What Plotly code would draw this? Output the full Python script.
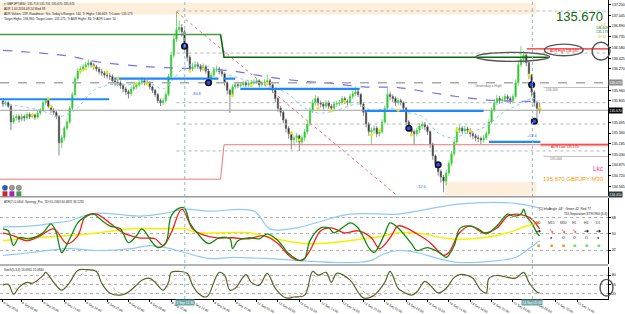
import plotly.graph_objects as go
from plotly.subplots import make_subplots

FONT = "Liberation Sans, Arial, sans-serif"

# ---------------- price data (GBPJPY M30) ----------------
bars = list(range(202))
opens = [135.80,135.76,135.78,135.73,135.50,135.56,135.58,135.54,135.58,135.56,
135.61,135.58,135.60,135.57,135.63,135.67,135.78,135.81,135.73,135.67,
135.64,135.58,135.20,135.27,135.41,135.50,135.70,135.90,136.13,136.24,
136.27,136.30,136.33,136.36,136.33,136.30,136.27,136.23,136.21,136.18,
136.17,136.16,136.10,136.07,136.07,136.03,135.98,135.94,135.91,135.98,
136.01,136.04,136.07,136.10,136.07,136.07,136.01,135.96,135.90,135.81,
135.78,135.81,135.90,136.16,136.47,136.70,136.84,136.87,136.81,136.61,
136.44,136.27,136.30,136.33,136.31,136.27,136.30,136.24,136.10,136.18,
136.26,136.27,136.23,136.20,136.07,135.96,135.90,136.01,136.04,136.03,
136.04,136.07,136.04,136.06,136.07,136.08,136.10,136.04,136.07,136.08,
136.10,136.04,135.96,135.84,135.70,135.64,135.53,135.41,135.33,135.24,
135.27,135.30,135.21,135.27,135.36,135.47,135.67,135.78,135.84,135.78,
135.76,135.73,135.78,135.73,135.70,135.76,135.77,135.78,135.84,135.80,
135.78,135.87,135.91,135.94,135.90,135.76,135.64,135.47,135.36,135.38,
135.41,135.33,135.36,135.50,135.70,135.90,135.87,135.84,135.78,135.81,
135.78,135.70,135.50,135.41,135.36,135.33,135.38,135.44,135.47,135.43,
135.36,135.18,135.01,134.90,134.78,134.70,134.64,134.76,134.90,135.04,
135.21,135.38,135.41,135.37,135.40,135.38,135.33,135.30,135.27,135.26,
135.24,135.27,135.33,135.50,135.67,135.78,135.84,135.81,135.83,135.87,
135.84,135.81,135.87,136.07,136.33,136.41,136.47,136.36,136.18,135.93,
135.78,135.70]
highs = [135.84,135.81,135.80,135.75,135.60,135.62,135.61,135.62,135.61,135.64,
135.64,135.63,135.62,135.66,135.70,135.81,135.84,135.83,135.75,135.70,
135.66,135.60,135.31,135.44,135.54,135.73,135.93,136.16,136.28,136.31,
136.34,136.37,136.41,136.39,136.36,136.33,136.30,136.27,136.24,136.22,
136.21,136.19,136.13,136.11,136.10,136.06,136.01,135.97,136.02,136.05,
136.08,136.11,136.15,136.13,136.11,136.09,136.03,135.98,135.92,135.84,
135.85,135.94,136.20,136.52,136.76,137.10,136.97,136.92,136.84,136.64,
136.47,136.36,136.38,136.37,136.34,136.35,136.33,136.26,136.22,136.30,
136.32,136.30,136.27,136.22,136.09,135.98,136.05,136.08,136.07,136.08,
136.10,136.10,136.09,136.11,136.12,136.14,136.12,136.10,136.12,136.19,
136.13,136.06,135.98,135.86,135.73,135.66,135.55,135.44,135.36,135.31,
135.34,135.32,135.31,135.40,135.52,135.71,135.83,135.89,135.87,135.81,
135.79,135.82,135.81,135.76,135.80,135.81,135.82,135.88,135.87,135.83,
135.91,135.95,136.01,135.97,135.92,135.78,135.66,135.50,135.42,135.45,
135.44,135.40,135.54,135.74,135.99,135.94,135.90,135.87,135.85,135.84,
135.80,135.72,135.53,135.44,135.39,135.42,135.48,135.51,135.50,135.46,
135.38,135.20,135.03,134.93,134.81,134.73,134.80,134.94,135.08,135.25,
135.43,135.46,135.44,135.44,135.43,135.41,135.36,135.33,135.31,135.29,
135.31,135.37,135.54,135.71,135.83,135.89,135.88,135.87,135.91,135.90,
135.87,135.91,136.12,136.38,136.60,136.53,136.50,136.39,136.20,135.96,
135.81,135.78]
lows = [135.72,135.73,135.70,135.38,135.47,135.52,135.49,135.51,135.51,135.53,
135.54,135.55,135.53,135.55,135.60,135.65,135.75,135.70,135.63,135.60,
135.54,135.01,135.12,135.23,135.38,135.47,135.67,135.87,136.10,136.20,
136.23,136.26,136.29,136.29,136.26,136.23,136.19,136.17,136.14,136.13,
136.11,136.06,136.02,136.02,135.98,135.93,135.89,135.84,135.88,135.95,
135.98,136.01,136.04,136.03,136.03,135.97,135.92,135.86,135.77,135.73,
135.75,135.78,135.87,136.13,136.43,136.66,136.80,136.74,136.55,136.38,
136.22,136.24,136.27,136.27,136.23,136.24,136.20,136.05,136.07,136.15,
136.22,136.19,136.16,136.03,135.90,135.63,135.86,135.98,135.99,136.00,
136.01,136.00,136.01,136.03,136.04,136.05,136.00,136.01,136.03,136.05,
136.00,135.92,135.79,135.65,135.58,135.48,135.35,135.26,135.10,135.18,
135.20,135.08,135.16,135.22,135.32,135.44,135.63,135.74,135.73,135.71,
135.68,135.70,135.69,135.65,135.67,135.72,135.73,135.75,135.76,135.74,
135.75,135.83,135.88,135.86,135.72,135.59,135.42,135.30,135.18,135.33,
135.28,135.29,135.33,135.47,135.67,135.82,135.79,135.73,135.75,135.74,
135.65,135.45,135.36,135.30,135.17,135.29,135.34,135.40,135.38,135.31,
135.12,134.95,134.83,134.72,134.62,134.48,134.58,134.72,134.86,135.00,
135.17,135.34,135.32,135.33,135.33,135.28,135.25,135.22,135.21,135.18,
135.20,135.24,135.30,135.47,135.64,135.74,135.76,135.77,135.79,135.79,
135.76,135.77,135.84,136.03,136.29,136.36,136.31,136.12,135.87,135.72,
135.50,135.62]
closes = [135.76,135.78,135.73,135.50,135.56,135.58,135.54,135.58,135.56,135.61,
135.58,135.60,135.57,135.63,135.67,135.78,135.81,135.73,135.67,135.64,
135.58,135.20,135.27,135.41,135.50,135.70,135.90,136.13,136.24,136.27,
136.30,136.33,136.36,136.33,136.30,136.27,136.23,136.21,136.18,136.17,
136.16,136.10,136.07,136.07,136.03,135.98,135.94,135.91,135.98,136.01,
136.04,136.07,136.10,136.07,136.07,136.01,135.96,135.90,135.81,135.78,
135.81,135.90,136.16,136.47,136.70,136.84,136.87,136.81,136.61,136.44,
136.27,136.30,136.33,136.31,136.27,136.30,136.24,136.10,136.18,136.26,
136.27,136.23,136.20,136.07,135.96,135.90,136.01,136.04,136.03,136.04,
136.07,136.04,136.06,136.07,136.08,136.10,136.04,136.07,136.08,136.10,
136.04,135.96,135.84,135.70,135.64,135.53,135.41,135.33,135.24,135.27,
135.30,135.21,135.27,135.36,135.47,135.67,135.78,135.84,135.78,135.76,
135.73,135.78,135.73,135.70,135.76,135.77,135.78,135.84,135.80,135.78,
135.87,135.91,135.94,135.90,135.76,135.64,135.47,135.36,135.38,135.41,
135.33,135.36,135.50,135.70,135.90,135.87,135.84,135.78,135.81,135.78,
135.70,135.50,135.41,135.36,135.33,135.38,135.44,135.47,135.43,135.36,
135.18,135.01,134.90,134.78,134.70,134.64,134.76,134.90,135.04,135.21,
135.38,135.41,135.37,135.40,135.38,135.33,135.30,135.27,135.26,135.24,
135.27,135.33,135.50,135.67,135.78,135.84,135.81,135.83,135.87,135.84,
135.81,135.87,136.07,136.33,136.41,136.47,136.36,136.18,135.93,135.78,
135.70,135.67]

# moving averages (read at sample bars)
ma_slow_x = [0,24,36,55,73,86,98,110,123,135,148,155,170,185,201]
ma_slow_y = [136.54,136.46,136.37,136.30,136.27,136.24,136.16,136.10,136.06,136.01,136.00,135.96,135.87,135.81,135.80]
ma_fast_x = [0,6,14,21,27,31,34,40,47,55,60,64,68,71,77,85,92,99,107,112,118,125,133,138,146,151,157,163,168,174,181,187,192,198,201]
ma_fast_y = [135.78,135.73,135.67,135.58,135.67,135.84,135.96,136.04,136.04,136.06,135.98,136.13,136.30,136.33,136.30,136.18,136.10,136.04,135.90,135.73,135.63,135.67,135.76,135.67,135.70,135.64,135.58,135.34,135.27,135.34,135.44,135.63,135.73,135.84,135.81]

# signal dots and swing rings
dot_x = [11,17,18,29,31,34,39,43,50,54,70,75,86,93,99,108,111,118,123,128,138,141,148,153,170,175,197,201]
dot_y = [135.60,135.84,135.73,136.24,136.27,136.30,136.23,136.13,136.06,136.06,136.24,136.27,135.88,136.03,136.06,135.34,135.24,135.70,135.66,135.80,135.31,135.38,135.67,135.31,135.38,135.37,136.18,135.70]
ring_x = [68,77,152,163,198,199]
ring_y = [136.60,136.07,135.41,134.88,136.04,135.51]

# support / resistance segments
sr_level = [135.83,136.13,136.13,135.98,135.66,135.21]
sr_start = [-1.1,41.7,82.6,88.9,135.4,182.0]
sr_end = [39.8,80.7,87.0,133.6,180.0,201.3]

# target / ADR levels
target_high_old, target_high_new = 136.77, 136.44
target_low_old, target_low_new = 134.67, 135.17
adr_high, adr_low = 136.56, 135.17
yest_high = 136.07
bid = 135.670
pivot_levels = [137.11, 136.50, 135.78, 135.47, 135.08]
round_levels = [136.00, 135.00]

# TDI indicator
tdi_green_x = [0,2,4,6,10,15,18,20,22,25,28,30,34,36,40,44,47,50,52,56,58,61,63,66,68,70,73,77,81,85,86,88,92,96,99,103,107,111,113,115,119,122,124,128,130,133,137,139,143,145,148,153,155,159,164,166,169,171,174,178,181,185,189,191,194,195,196,198,200,201]
tdi_green_y = [55.5,53.3,36.9,45.6,44.5,51.1,60.9,51.1,29.3,44.5,62,67.4,71.8,67.4,58.7,55.5,40.2,47.8,55.5,40.2,34.7,40.2,69.6,78.4,78.4,62,50,39.1,45.6,44.5,33.6,42.4,45.6,44.5,50,42.4,28.2,20.6,22.7,42.4,56.5,56.5,51.1,58.7,62,56.5,34.7,29.3,50,62,56.5,39.1,31.5,34.7,28.2,23.8,36.9,55.5,58.7,55.5,50,58.7,71.8,69.6,71.8,77.3,69.6,62,51.1,47.8]
tdi_red_x = [0,4,9,14,19,24,28,31,35,40,45,51,57,60,63,67,71,74,80,86,92,98,103,108,112,115,119,123,128,133,138,141,145,148,151,155,160,165,167,171,175,180,185,189,192,196,198,201]
tdi_red_y = [51.1,47.8,42.4,47.8,55.5,39.1,47.8,69.6,71.8,62,51.1,45.6,44.5,36.9,51.1,77.3,55.5,50,45.6,45.6,44.5,47.8,39.1,23.8,20.6,31.5,53.3,56.5,51.1,53.3,45.6,33.6,45.6,58.7,56.5,50,40.2,26,29.3,51.1,58.7,51.1,56.5,69.6,71.8,69.6,66.4,55.5]
tdi_base_x = [0,11,24,36,48,61,68,73,92,102,114,123,135,143,148,157,167,180,189,196,201]
tdi_base_y = [42.4,45.6,47.8,51.1,55.5,55.5,55.5,51.1,51.1,44.5,39.1,40.2,44.5,47.8,51.1,50,44.5,45.6,51.1,58.7,62]
tdi_up_x = [0,11,19,25,30,36,42,51,61,68,77,94,100,110,117,130,148,157,170,192,201]
tdi_up_y = [57.6,58.7,62,64.2,69.6,72.9,71.8,69.6,72.9,77.3,75.1,75.1,55.5,56.5,62,71.8,71.8,76.2,82.7,83.8,78.4]
tdi_lo_x = [0,11,24,36,48,55,61,68,77,86,98,110,123,133,138,143,148,155,163,170,186,192,197,201]
tdi_lo_y = [26,29.3,33.6,31.5,33.6,36.9,34.7,29.3,22.7,23.8,22.7,20.6,18.4,18.4,20.6,28.2,31.5,29.3,22.7,18.4,20.6,23.8,33.6,42.4]

# Stochastic
st_main_x = [0,2,4,6,9,11,15,16,19,22,25,28,31,35,37,40,44,47,50,52,55,57,60,62,63,66,69,71,73,76,77,81,83,85,87,91,93,96,99,102,106,109,113,116,118,121,123,125,130,133,135,139,143,145,148,150,153,155,158,160,163,166,169,171,174,176,179,181,182,185,189,192,195,197,200,201]
st_main_y = [48,51,19,41,57,54,79,89,57,32,57,95,98,92,54,23,16,26,48,64,70,57,32,57,89,92,86,48,23,10,16,89,80,32,38,82,57,48,86,38,7,10,16,92,80,89,57,86,64,26,7,16,57,92,38,26,16,26,60,48,23,38,73,82,79,70,32,23,70,79,73,70,89,57,26,23]
st_sig_x = [0,3,6,9,12,16,19,22,25,28,31,35,38,41,44,47,50,53,56,59,62,64,67,70,73,76,78,82,85,88,92,95,98,101,104,107,110,114,117,120,123,126,130,133,136,140,144,146,149,152,155,158,161,164,167,170,173,176,179,182,184,187,191,194,197,200,201]
st_sig_y = [52,45,33,45,55,70,75,50,42,70,92,95,75,42,22,19,33,52,64,50,43,65,86,78,50,25,15,60,62,40,62,64,65,60,30,15,10,35,75,82,72,72,72,50,20,12,38,70,60,30,20,38,50,40,35,58,78,76,55,35,55,75,73,75,75,50,40]

# axis labels
tick_bars = [0,7,15,23,31,39,47,55,63,71,79,87,95,103,111,119,127,135,143,151,159,167,175,183,191,199,207,215]
tick_text = ["8 Sep 2016","8 Sep 06:00","8 Sep 10:00","8 Sep 14:00","8 Sep 18:00","8 Sep 22:00",
             "9 Sep 02:00","9 Sep 06:00","9 Sep 10:00","9 Sep 14:00","9 Sep 18:00","9 Sep 22:00",
             "12 Sep 02:00","12 Sep 06:00","12 Sep 10:00","12 Sep 14:00","12 Sep 18:00","12 Sep 22:00",
             "13 Sep 02:00","13 Sep 06:00","13 Sep 10:00","13 Sep 14:00","13 Sep 18:00","13 Sep 22:00",
             "14 Sep 02:00","14 Sep 06:00","14 Sep 10:00","14 Sep 14:00"]
price_ticks = [137.200,137.045,136.890,136.735,136.580,136.425,136.270,
               135.960,135.805,135.495,135.340,135.185,135.030,134.875,134.720,134.565]

X_RANGE = [-1.1, 226.6]
W, H = 625, 314
PLOT_W, PLOT_H = 612, 304


def px_x(p):
    return p / PLOT_W


def px_y(p):
    return 1 - p / PLOT_H


fig = make_subplots(rows=3, cols=1, shared_xaxes=True, vertical_spacing=0.0)

# --- main panel: moving averages
fig.add_trace(go.Scatter(x=ma_slow_x, y=ma_slow_y, mode="lines", line=dict(color="#7a72e8", width=1.2, dash="dash"), line_shape="spline"), 1, 1)
fig.add_trace(go.Scatter(x=ma_fast_x, y=ma_fast_y, mode="lines", line=dict(color="#87cefa", width=1, dash="dot"), line_shape="spline"), 1, 1)

# horizontal levels
full = [X_RANGE[0], X_RANGE[1]]
fig.add_trace(go.Scatter(x=full, y=[yest_high, yest_high], mode="lines", line=dict(color="#a9a9a9", width=1.6, dash="dash")), 1, 1)
fig.add_trace(go.Scatter(x=full, y=[bid, bid], mode="lines", line=dict(color="#a0a0a0", width=1)), 1, 1)
for lv in pivot_levels:
    fig.add_trace(go.Scatter(x=[65, X_RANGE[1]], y=[lv, lv], mode="lines", line=dict(color="#b4b4b4", width=1, dash="dot")), 1, 1)
for lv in round_levels:
    fig.add_trace(go.Scatter(x=[202.4, X_RANGE[1]], y=[lv, lv], mode="lines", line=dict(color="#b0b0b0", width=0.8)), 1, 1)

# diagonal red dotted trend line
fig.add_trace(go.Scatter(x=[65, 147.7], y=[137.10, 134.43], mode="lines", line=dict(color="#ff6a6a", width=1, dash="dot")), 1, 1)

# target high / low step lines
fig.add_trace(go.Scatter(x=[X_RANGE[0], 81.5], y=[target_high_old, target_high_old], mode="lines", line=dict(color="#3f9f3f", width=1.6)), 1, 1)
fig.add_trace(go.Scatter(x=[81.5, 82.8, 204.3], y=[target_high_old, target_high_new, target_high_new], mode="lines", line=dict(color="#0b6a0b", width=1.6)), 1, 1)
fig.add_trace(go.Scatter(x=[X_RANGE[0], 81.5, 82.8, 201.3], y=[target_low_old, target_low_old, target_low_new, target_low_new], mode="lines", line=dict(color="#f07878", width=1)), 1, 1)
fig.add_trace(go.Scatter(x=[201.3, X_RANGE[1]], y=[adr_low, adr_low], mode="lines", line=dict(color="#ffb3b3", width=3)), 1, 1)
fig.add_trace(go.Scatter(x=[201.3, X_RANGE[1]], y=[adr_low, adr_low], mode="lines", line=dict(color="#ff3030", width=1)), 1, 1)
fig.add_trace(go.Scatter(x=[196.2, X_RANGE[1]], y=[adr_high, adr_high], mode="lines", line=dict(color="#ff2020", width=1.2)), 1, 1)

# candles
fig.add_trace(go.Candlestick(x=bars, open=opens, high=highs, low=lows, close=closes,
                             increasing=dict(line=dict(color="#4fd04f", width=0.8), fillcolor="#00c000"),
                             decreasing=dict(line=dict(color="#6a6a6a", width=0.8), fillcolor="#000000"),
                             whiskerwidth=0), 1, 1)

# support/resistance segments
for lv, s, e in zip(sr_level, sr_start, sr_end):
    fig.add_trace(go.Scatter(x=[s, e], y=[lv, lv], mode="lines", line=dict(color="#1e88ff", width=2.2)), 1, 1)

fig.add_trace(go.Scatter(x=dot_x, y=dot_y, mode="markers", marker=dict(color="#f2e400", size=3)), 1, 1)
fig.add_trace(go.Scatter(x=ring_x, y=ring_y, mode="markers", marker=dict(color="#2f4dff", size=5.5, line=dict(color="#111111", width=1.6))), 1, 1)

# --- TDI panel
fig.add_trace(go.Scatter(x=tdi_up_x, y=tdi_up_y, mode="lines", line=dict(color="#8fcaf5", width=1.2), line_shape="spline"), 2, 1)
fig.add_trace(go.Scatter(x=tdi_lo_x, y=tdi_lo_y, mode="lines", line=dict(color="#8fcaf5", width=1.2), line_shape="spline"), 2, 1)
fig.add_trace(go.Scatter(x=tdi_base_x, y=tdi_base_y, mode="lines", line=dict(color="#f5f000", width=1.5), line_shape="spline"), 2, 1)
fig.add_trace(go.Scatter(x=tdi_red_x, y=tdi_red_y, mode="lines", line=dict(color="#ff1a1a", width=1.3), line_shape="spline"), 2, 1)
fig.add_trace(go.Scatter(x=tdi_green_x, y=tdi_green_y, mode="lines", line=dict(color="#128a12", width=1.3), line_shape="spline"), 2, 1)

# --- Stochastic panel
fig.add_trace(go.Scatter(x=st_sig_x, y=st_sig_y, mode="lines", line=dict(color="#ff9a9a", width=1, dash="dot"), line_shape="spline"), 3, 1)
fig.add_trace(go.Scatter(x=st_main_x, y=st_main_y, mode="lines", line=dict(color="#4b6a2a", width=1.2), line_shape="spline"), 3, 1)

# ---------------- layout ----------------
fig.update_layout(width=W, height=H, margin=dict(l=0, r=W - PLOT_W, t=0, b=H - PLOT_H),
                  paper_bgcolor="white", plot_bgcolor="white", showlegend=False,
                  font=dict(family=FONT, size=4, color="#000000"))

dom_main = [px_y(199), 1]
dom_tdi = [px_y(268), px_y(201)]
dom_st = [0, px_y(271)]

for i, dom in zip([1, 2, 3], [dom_main, dom_tdi, dom_st]):
    fig.update_xaxes(row=i, col=1, range=X_RANGE, showgrid=False, zeroline=False,
                     showticklabels=(i == 3), rangeslider_visible=False, showline=False)
    fig.update_yaxes(row=i, col=1, domain=dom, side="right", zeroline=False,
                     showline=True, linecolor="#000000", linewidth=1,
                     ticks="outside", ticklen=2, tickcolor="#000000",
                     tickfont=dict(size=3.6, family=FONT, color="#000000"))

fig.update_xaxes(row=3, col=1, tickvals=tick_bars, ticktext=tick_text, ticks="outside", ticklen=2,
                 tickcolor="#000000", ticklabelposition="outside right",
                 tickfont=dict(size=3.2, family=FONT, color="#000000"), showline=True, linecolor="#000000")

fig.update_yaxes(row=1, col=1, range=[134.43, 137.27], tickvals=price_ticks,
                 ticktext=[f"{v:.3f}" for v in price_ticks], showgrid=False)
fig.update_yaxes(row=2, col=1, range=[17, 90], tickvals=[32, 50, 68], showgrid=True,
                 gridcolor="#b0b0b0", griddash="dot", gridwidth=1)
fig.update_yaxes(row=3, col=1, range=[3.6, 107.7], tickvals=[20, 50, 80], showgrid=True,
                 gridcolor="#b0b0b0", griddash="dot", gridwidth=1)

shapes = []
# peach zones
shapes.append(dict(type="rect", xref="x", yref="y", x0=X_RANGE[0], x1=199.8, y0=137.06, y1=137.23,
                   fillcolor="#fdefdc", line=dict(width=0), layer="below"))
shapes.append(dict(type="rect", xref="x", yref="y", x0=165.6, x1=199.8, y0=134.43, y1=134.63,
                   fillcolor="#fdefdc", line=dict(width=0), layer="below"))
# vertical dotted lines through all panels
for vx in [68.1, 198.3]:
    shapes.append(dict(type="line", xref="x", yref="paper", x0=vx, x1=vx, y0=0, y1=1,
                       line=dict(color="#8fbdbd", width=1, dash="dot")))
# panel separators
for p in [200, 269.5]:
    shapes.append(dict(type="line", xref="paper", yref="paper", x0=0, x1=1, y0=px_y(p), y1=px_y(p),
                       line=dict(color="#9a9a9a", width=1.5)))
# ellipses
shapes.append(dict(type="circle", xref="x", yref="y", x0=177.1, x1=204.7, y0=136.38, y1=136.51,
                   line=dict(color="#555555", width=1.4)))
shapes.append(dict(type="circle", xref="x", yref="y", x0=202.8, x1=217.3, y0=136.46, y1=136.63,
                   line=dict(color="#555555", width=1.4)))
shapes.append(dict(type="circle", xref="paper", yref="paper", x0=px_x(596), x1=px_x(614), y0=px_y(61), y1=px_y(43),
                   line=dict(color="#555555", width=1.4)))
shapes.append(dict(type="circle", xref="paper", yref="paper", x0=px_x(604), x1=px_x(617), y0=px_y(301), y1=px_y(284),
                   line=dict(color="#555555", width=1.4)))
# small toolbar icons bottom-left
for cx, col in zip([5, 12, 19], ["#1565c0", "#9e9e9e", "#9e9e9e"]):
    shapes.append(dict(type="circle", xref="paper", yref="paper", x0=px_x(cx - 2.6), x1=px_x(cx + 2.6),
                       y0=px_y(193.6), y1=px_y(188.4), fillcolor=col, line=dict(color="#555", width=0.5)))
for cx, col in zip([5, 12, 19], ["#c62828", "#9c27b0", "#43a047"]):
    shapes.append(dict(type="rect", xref="paper", yref="paper", x0=px_x(cx - 2.5), x1=px_x(cx + 2.5),
                       y0=px_y(199.5), y1=px_y(194.5), fillcolor=col, line=dict(width=0)))
fig.update_layout(shapes=shapes)

ann = []


def note(x, y, text, size=3.5, color="#000000", xref="x", yref="y", xanchor="center", bg=None, yanchor="middle"):
    d = dict(x=x, y=y, xref=xref, yref=yref, text=text, showarrow=False, xanchor=xanchor, yanchor=yanchor,
             font=dict(size=size, color=color, family=FONT))
    if bg:
        d["bgcolor"] = bg
        d["borderpad"] = 0.5
    ann.append(d)


# header lines top-left
hdr = ["\u25be GBPJPY,M30  135.713 135.731 135.670 135.670",
       "ADR 1.00 2016.09.14 Wed 39",
       "ADR Values: 139, Rawdness: Yes, Today's Ranges: 144, Tr Highs: 136.609, Tr Lows: 135.173",
       "Target Highs: 136.960; Target Lows: 135.175; Tr ADR Highs: 86; Tr ADR Lows: 50"]
for k, t in enumerate(hdr):
    note(px_x(2), px_y(4 + 5.2 * k), t, size=3.1, color="#1a1a1a", xref="paper", yref="paper", xanchor="left")

# main chart labels
note(216, 137.03, "135.670", size=13, color="#0b6a0b")
note(224.8, 136.91, "4.6", size=3.4, color="#d9c800")
note(224.4, 136.86, "136.609", size=3.4, color="#0b6a0b")
note(224.4, 136.80, "135.173", size=3.4, color="#0a7a5a")
note(224.4, 136.74, "39:32", size=3.4, color="#d9c800")
note(210.2, 136.53, "ADR High 136.580", size=3.4, color="#e01010")
note(210.6, 135.135, "ADR Low 135.170", size=3.4, color="#e01010")
note(181.9, 136.025, "Yesterday's High", size=3.6, color="#707070")
note(205.6, 135.965, "136.000", size=3.3, color="#707070")
note(207.3, 134.965, "135.000", size=3.3, color="#707070")
note(72.6, 135.90, "-80.8", size=3.8, color="#3d5afe")
note(156.7, 134.56, "-52.4", size=3.8, color="#3d5afe")
note(198.1, 135.30, "+53.4", size=3.8, color="#3d5afe")
note(222.9, 134.83, "Lkc", size=6.5, color="#ff3399")
note(213.6, 134.68, "135.670 GBPJPY M30", size=6, color="#ff9900")

# axis value boxes
note(1.0, px_y(84), "136.070", size=3.4, color="#ffffff", xref="paper", yref="paper", xanchor="left", bg="#8c8c8c")
note(1.0, px_y(112), "135.670", size=3.4, color="#ffffff", xref="paper", yref="paper", xanchor="left", bg="#000000")
note(1.0, px_y(197.5), "134.450", size=3.4, color="#ffffff", xref="paper", yref="paper", xanchor="left", bg="#2b3a3a")

# TDI panel texts
note(px_x(2), px_y(205), "ATR(7) 0.0404  Synergy_Pro_TDI 61.2063 60.4831 33.1281", size=3.0, color="#1a1a1a",
     xref="paper", yref="paper", xanchor="left")
note(px_x(541), px_y(213), "[1] InfoAngle -44\u00b0  Green 42  Red 77", size=3.2, color="#202020",
     xref="paper", yref="paper", xanchor="left")
note(px_x(566), px_y(218), "TDI Separation STRONG [6.6]", size=3.2, color="#202020",
     xref="paper", yref="paper", xanchor="left")
cols_px = [542, 555, 567, 578, 590, 602]
heads = ["M1", "M15", "M30", "H1", "H4", "D1"]
arrows = ["\u2794", "\u2798", "\u2798", "\u2798", "\u2794", "\u2794"]
arrow_col = ["#000000", "#ff1a1a", "#ff1a1a", "#ff1a1a", "#000000", "#000000"]
marks = ["", "\u25cf", "O", "O", "O", "\u25cf"]
sq_col = ["#ff9000", "#ff9000", "#ff9000", "#66dd66", "#66dd66", "#66dd66"]
for c, h, a, ac, m, sc in zip(cols_px, heads, arrows, arrow_col, marks, sq_col):
    note(px_x(c), px_y(227), h, size=3.4, color="#303030", xref="paper", yref="paper")
    note(px_x(c), px_y(234.5), a, size=6, color=ac, xref="paper", yref="paper")
    if m:
        note(px_x(c), px_y(242), m, size=3.6, color="#000000", xref="paper", yref="paper")
    note(px_x(c), px_y(249.5), "\u25a0", size=5, color=sc, xref="paper", yref="paper")

# stoch title
note(px_x(2), px_y(274.5), "Stoch(5,3,3) 13.6961 25.0844", size=3.0, color="#1a1a1a",
     xref="paper", yref="paper", xanchor="left")

# time boxes for the vertical lines
note(68.1, px_y(307.5), "9 Sep 12:30", size=3.2, color="#ffffff", xref="x3", yref="paper", bg="#6fa8a8")
note(198.3, px_y(307.5), "14 Sep 05:30", size=3.2, color="#ffffff", xref="x3", yref="paper", bg="#6fa8a8")

fig.update_layout(annotations=ann)

fig.write_html("out.html")
